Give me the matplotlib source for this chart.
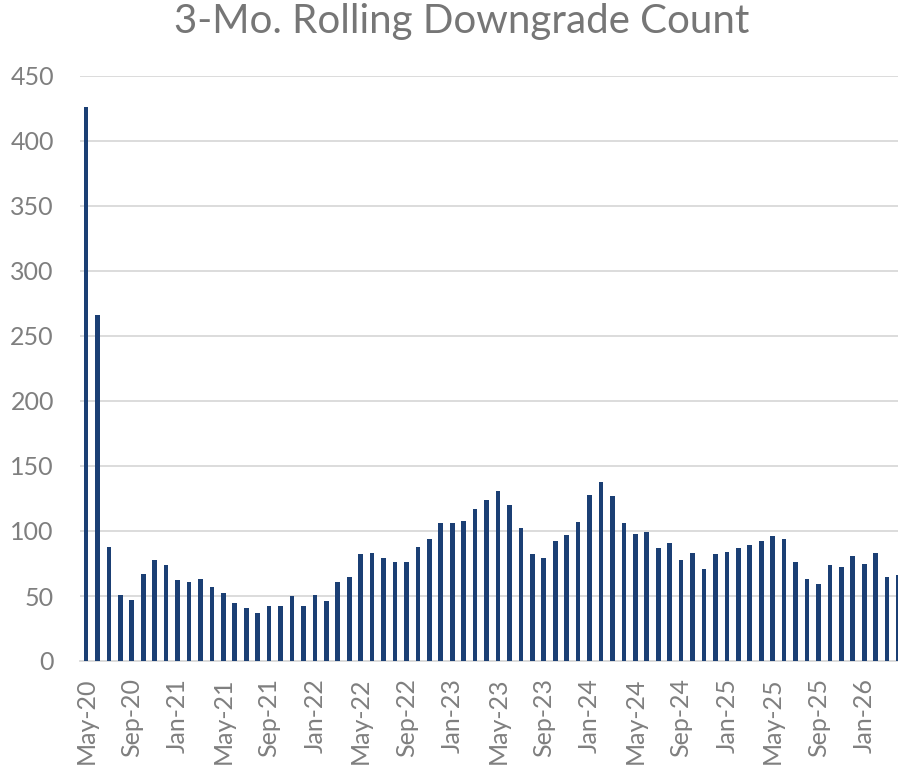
import matplotlib
matplotlib.use('Agg')
import matplotlib.pyplot as plt
import numpy as np

# 3-month rolling downgrade counts, monthly from May-20
counts = [426, 266, 88, 51, 47, 67, 78, 74, 62, 61,
          63, 57, 52, 45, 41, 37, 42, 42, 50, 42,
          51, 46, 61, 65, 82, 83, 79, 76, 76, 88,
          94, 106, 106, 108, 117, 124, 131, 120, 102, 82,
          79, 92, 97, 107, 128, 138, 127, 106, 98, 99,
          87, 91, 78, 83, 71, 82, 84, 87, 89, 92,
          96, 94, 76, 63, 59, 74, 72, 81, 75, 83,
          65, 66]
tick_labels = ['May-20', 'Sep-20', 'Jan-21', 'May-21', 'Sep-21', 'Jan-22',
               'May-22', 'Sep-22', 'Jan-23', 'May-23', 'Sep-23', 'Jan-24',
               'May-24', 'Sep-24', 'Jan-25', 'May-25', 'Sep-25', 'Jan-26']
y_ticks = [0, 50, 100, 150, 200, 250, 300, 350, 400, 450]

plt.rcParams['font.family'] = ['Lato', 'DejaVu Sans']
grey = '#7f7f7f'

fig = plt.figure(figsize=(8.98, 7.72), dpi=100)
ax = fig.add_axes([80.3 / 898, 111 / 772, 1 - 80.3 / 898, 585 / 772])

x = np.arange(len(counts))
ax.bar(x, counts, width=0.41, color='#1b3f74', zorder=3)

ax.set_xlim(-0.5, 70.95)
ax.set_ylim(0, 450)
ax.set_yticks(y_ticks)
ax.set_yticklabels([str(v) for v in y_ticks], fontsize=18, color=grey)
ax.set_xticks(np.arange(0, len(tick_labels) * 4, 4))
ax.set_xticklabels(tick_labels, rotation=90, fontsize=18, color=grey)
ax.tick_params(axis='y', length=0, pad=19)
ax.tick_params(axis='x', length=0, pad=12)

ax.grid(axis='y', color='#d9d9d9', linewidth=1.3, zorder=0)
for s in ['top', 'right', 'left']:
    ax.spines[s].set_visible(False)
ax.spines['bottom'].set_color('#d9d9d9')
ax.spines['bottom'].set_linewidth(1.3)

fig.text(0.5145, 0.972, '3-Mo. Rolling Downgrade Count', ha='center', va='center',
         fontsize=29, color='#767676')

fig.savefig('out.png', dpi=100)
